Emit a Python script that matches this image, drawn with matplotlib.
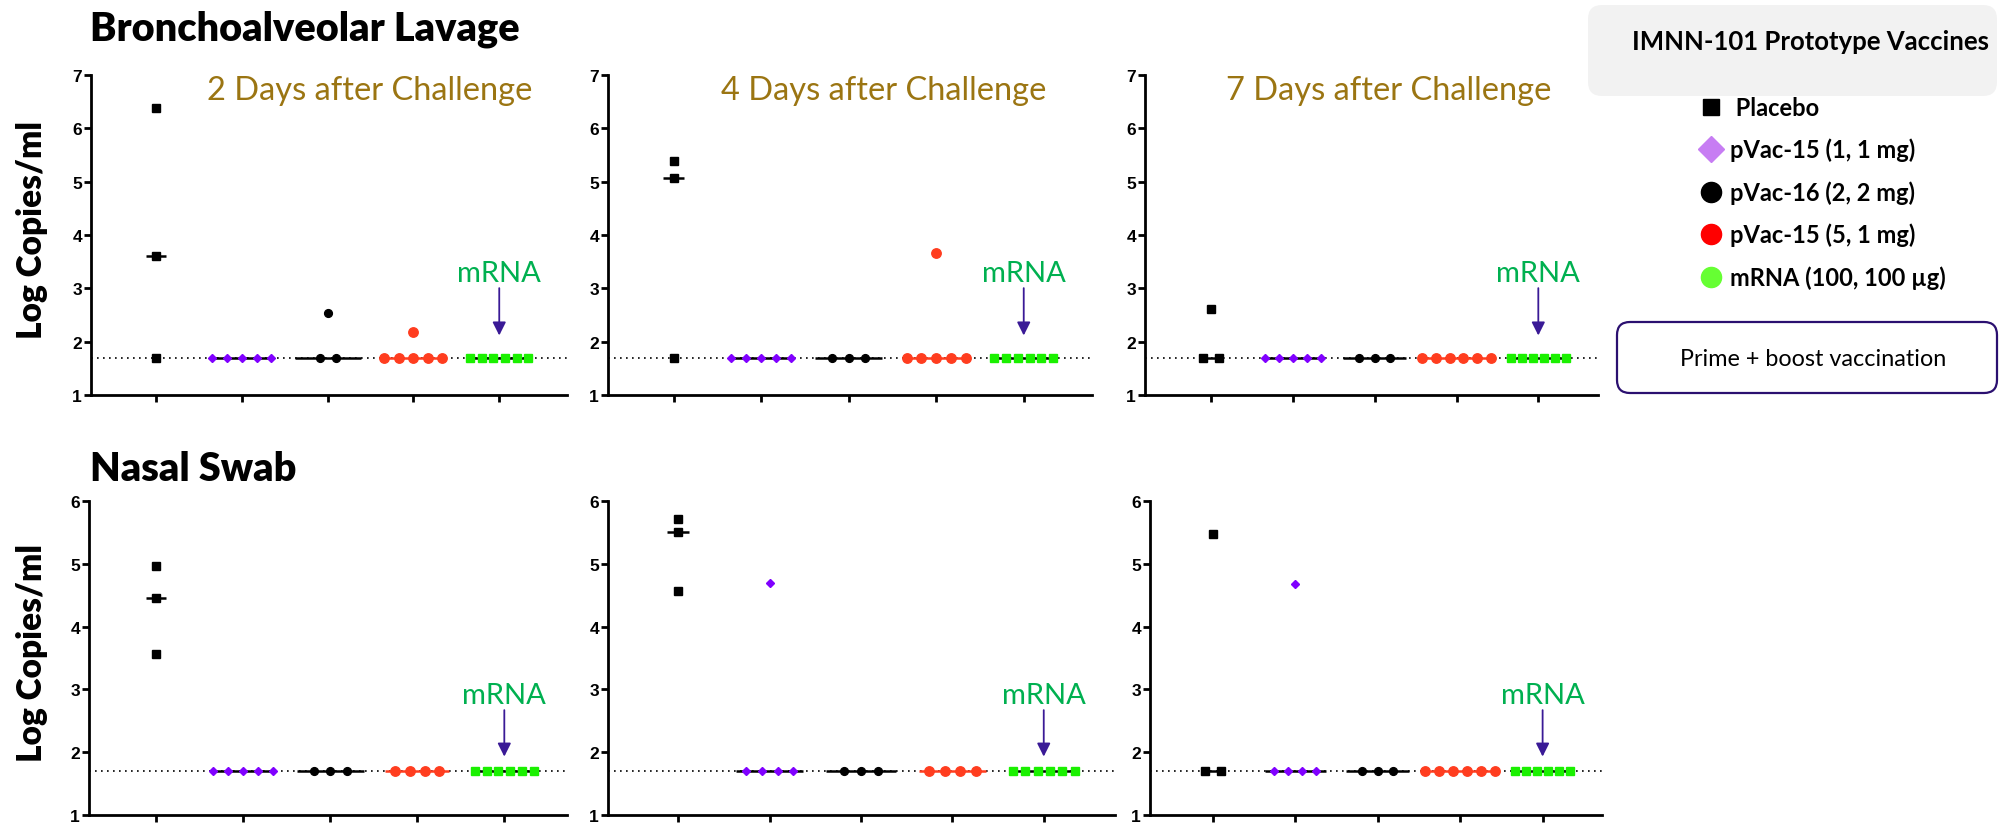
import numpy as np
import matplotlib.pyplot as plt
from matplotlib.lines import Line2D
from matplotlib.patches import FancyBboxPatch

# groups (left to right in every panel)
groups = ["Placebo", "pVac-15 (1, 1 mg)", "pVac-16 (2, 2 mg)",
          "pVac-15 (5, 1 mg)", "mRNA (100, 100 µg)"]
lod = 1.7  # limit of detection (dotted line)

# Bronchoalveolar lavage, log copies/ml
bal_day2 = [[6.38, 3.61, 1.7],
            [1.7, 1.7, 1.7, 1.7, 1.7],
            [2.53, 1.7, 1.7],
            [2.19, 1.7, 1.7, 1.7, 1.7, 1.7],
            [1.7, 1.7, 1.7, 1.7, 1.7, 1.7]]
bal_day4 = [[5.38, 5.06, 1.7],
            [1.7, 1.7, 1.7, 1.7, 1.7],
            [1.7, 1.7, 1.7],
            [3.66, 1.7, 1.7, 1.7, 1.7, 1.7],
            [1.7, 1.7, 1.7, 1.7, 1.7, 1.7]]
bal_day7 = [[2.61, 1.7, 1.7],
            [1.7, 1.7, 1.7, 1.7, 1.7],
            [1.7, 1.7, 1.7],
            [1.7, 1.7, 1.7, 1.7, 1.7, 1.7],
            [1.7, 1.7, 1.7, 1.7, 1.7, 1.7]]

# Nasal swab, log copies/ml
ns_day2 = [[4.97, 4.45, 3.57],
           [1.7, 1.7, 1.7, 1.7, 1.7],
           [1.7, 1.7, 1.7],
           [1.7, 1.7, 1.7, 1.7],
           [1.7, 1.7, 1.7, 1.7, 1.7, 1.7]]
ns_day4 = [[5.71, 5.5, 4.57],
           [4.7, 1.7, 1.7, 1.7, 1.7],
           [1.7, 1.7, 1.7],
           [1.7, 1.7, 1.7, 1.7],
           [1.7, 1.7, 1.7, 1.7, 1.7, 1.7]]
ns_day7 = [[5.48, 1.7, 1.7],
           [4.68, 1.7, 1.7, 1.7, 1.7],
           [1.7, 1.7, 1.7],
           [1.7, 1.7, 1.7, 1.7, 1.7, 1.7],
           [1.7, 1.7, 1.7, 1.7, 1.7, 1.7]]

day_titles = ["2 Days after Challenge", "4 Days after Challenge", "7 Days after Challenge"]

# styles per group: marker, colour, size, spread step, median width, median colour
markers = ["s", "D", "o", "o", "s"]
colors = ["black", "#8000FF", "black", "#FF3D1F", "#1AF000"]
msizes = [6.0, 4.3, 5.6, 6.8, 5.6]
steps = [0.19, 0.172, 0.19, 0.169, 0.135]
med_w = [0.24, 0.74, 0.77, 0.74, 0.74]
med_c = ["black", "black", "black", "#FF3D1F", "black"]
leg_colors = ["black", "#C77DF3", "black", "#FF0000", "#66FF33"]
leg_sizes = [12, 13, 14.5, 14.5, 14.5]
leg_markers = ["s", "D", "o", "o", "o"]

W, H = 2002, 829
# panel boxes in pixels (left, top, right, bottom) and x limits
panels = [
    (bal_day2, (91, 76, 567, 396), (-0.76, 4.79), 7),
    (bal_day4, (608, 76, 1092, 396), (-0.75, 4.78), 7),
    (bal_day7, (1145, 76, 1598, 396), (-0.81, 4.73), 7),
    (ns_day2, (89, 502, 567, 816), (-0.77, 4.72), 6),
    (ns_day4, (608, 502, 1115, 816), (-0.77, 4.78), 6),
    (ns_day7, (1150, 502, 1602, 816), (-0.76, 4.72), 6),
]

title_font = ["Lato", "DejaVu Sans"]
tick_font = "Liberation Sans"


def spread(vals, step):
    vals = np.asarray(vals, float)
    off = np.zeros(len(vals))
    for v in np.unique(vals):
        idx = np.where(vals == v)[0]
        off[idx] = (np.arange(len(idx)) - (len(idx) - 1) / 2) * step
    return off


fig = plt.figure(figsize=(W / 100, H / 100), dpi=100)

for k, (data, (l, t, r, b), xl, ytop) in enumerate(panels):
    ax = fig.add_axes([l / W, 1 - b / H, (r - l) / W, (b - t) / H])
    ax.axhline(lod, color="black", ls=(0, (1, 2.6)), lw=1.2, zorder=1)
    for g, vals in enumerate(data):
        med = np.median(vals)
        ax.plot([g - med_w[g] / 2, g + med_w[g] / 2], [med, med],
                color=med_c[g], lw=1.8, zorder=2, solid_capstyle="butt")
        ax.plot(g + spread(vals, steps[g]), vals, ls="none", marker=markers[g],
                ms=msizes[g], color=colors[g], mec=colors[g], zorder=3)
    ax.set_xlim(*xl)
    ax.set_ylim(1, ytop)
    ax.set_xticks(range(len(groups)))
    ax.set_xticklabels([])
    ax.set_yticks(range(1, ytop + 1))
    for s in ["top", "right"]:
        ax.spines[s].set_visible(False)
    for s in ["left", "bottom"]:
        ax.spines[s].set_linewidth(2.0)
    ax.tick_params(axis="both", direction="out", width=2.0, length=5, pad=1.5)
    for lab in ax.get_yticklabels():
        lab.set_fontfamily(tick_font)
        lab.set_fontweight("bold")
        lab.set_fontsize(12.5)

    # mRNA marker with arrow
    ax.text(4, 0.357, "mRNA", transform=ax.get_xaxis_transform(), ha="center",
            va="baseline", color="#00B050", fontsize=21, family=title_font)
    ax.annotate("", xy=(4, 0.186), xycoords=("data", "axes fraction"),
                xytext=(4, 0.334), textcoords=("data", "axes fraction"),
                arrowprops=dict(arrowstyle="-|>", color="#3A1A96", lw=1.3,
                                mutation_scale=20, shrinkA=0, shrinkB=0))

    if k % 3 == 0:
        ax.set_ylabel("Log Copies/ml", family=title_font, fontweight="heavy",
                      fontsize=24)
        ax.yaxis.set_label_coords((48 - l) / (r - l), 0.52)

# overlay in pixel coordinates for titles and boxes
lay = fig.add_axes([0, 0, 1, 1])
lay.set_xlim(0, W)
lay.set_ylim(H, 0)
lay.axis("off")

lay.text(90, 40, "Bronchoalveolar Lavage", ha="left", va="baseline",
         fontsize=28.5, fontweight="heavy", family=title_font)
lay.text(90, 481, "Nasal Swab", ha="left", va="baseline",
         fontsize=28.5, fontweight="heavy", family=title_font)
for cx, txt in zip([370, 884, 1389], day_titles):
    lay.text(cx, 100, txt, ha="center", va="baseline", fontsize=23.5,
             color="#9B7512", family=title_font)

lay.add_patch(FancyBboxPatch((1588, 6), 409, 91, boxstyle="round,pad=0,rounding_size=14",
                             fc="#F2F2F2", ec="none"))
lay.text(1810, 42, "IMNN-101 Prototype Vaccines", ha="center", va="center",
         fontsize=18.5, fontweight="bold", family=title_font)

lay.add_patch(FancyBboxPatch((1617, 323), 380, 71, boxstyle="round,pad=0,rounding_size=13",
                             fc="white", ec="#2B1070", lw=1.6))
lay.text(1813, 359, "Prime + boost vaccination", ha="center", va="center",
         fontsize=16.8, family=title_font)

handles = [Line2D([], [], ls="none", marker=leg_markers[i], ms=leg_sizes[i],
                  color=leg_colors[i]) for i in range(len(groups))]
labels = [" " + groups[0]] + groups[1:]
fig.legend(handles, labels, loc="upper left", bbox_to_anchor=(1699 / W, 1 - 97 / H),
           frameon=False, prop=dict(family=title_font, weight="bold", size=17),
           handlelength=1.0, handletextpad=0.3, labelspacing=0.8,
           borderpad=0, borderaxespad=0)

fig.savefig("out.png", dpi=100)
